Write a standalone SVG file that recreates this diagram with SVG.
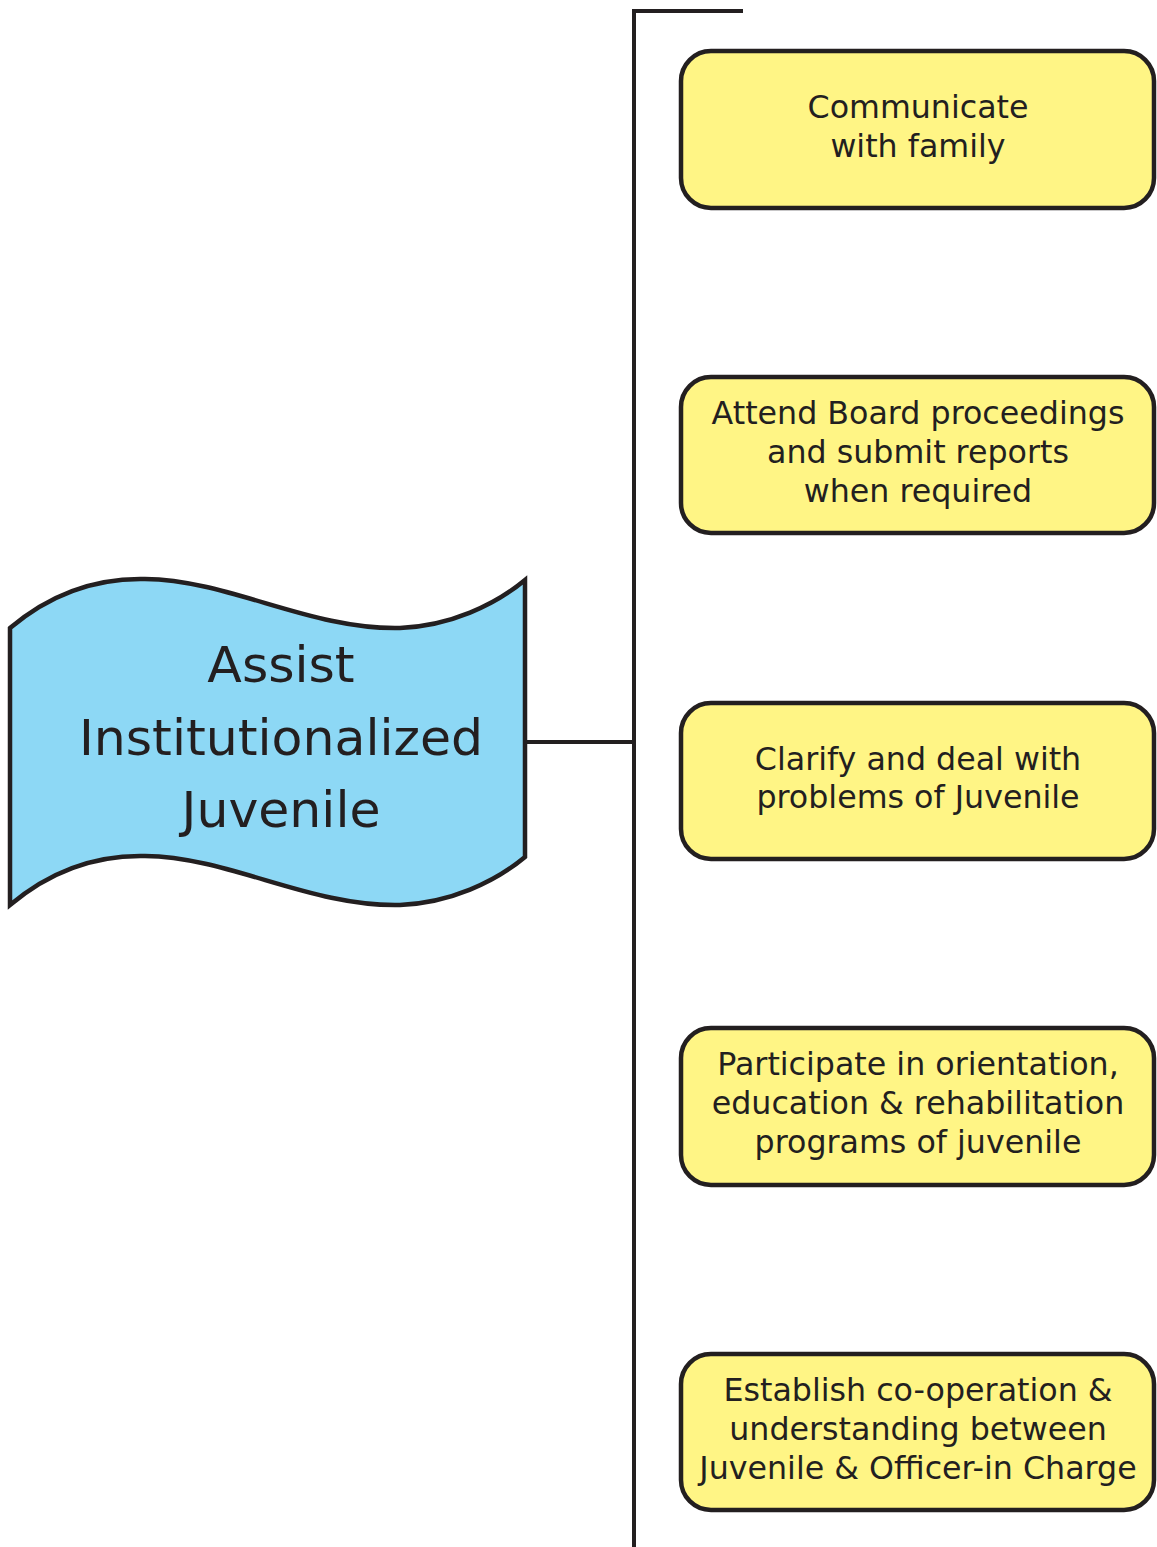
<svg xmlns="http://www.w3.org/2000/svg" width="1157" height="1547" viewBox="0 0 1157 1547">
<style>
.ln{fill:none;stroke:#231F20;stroke-width:4}
.box{fill:#FFF585;stroke:#231F20;stroke-width:4.5}
.flag{fill:#8DD8F5;stroke:#231F20;stroke-width:4.5}
.t{font-family:"DejaVu Sans","Verdana",sans-serif;fill:#231F20;text-anchor:middle}
.bt{font-size:31.7px}
.ft{font-size:50.5px}
</style>
<rect width="1157" height="1547" fill="#ffffff"/>
<g id="connectors">
<polyline class="ln" points="743,11 634,11 634,1547"/>
<line class="ln" x1="525" y1="742" x2="634" y2="742"/>
</g>
<g id="main">
<path class="flag" d="M10,628 C55,590 100,578 145,579 C230,580 310,630 400,628 C450,626 495,605 525,580 V857 C495,882 450,903 400,905 C310,907 230,857 145,856 C100,855 55,867 10,905 Z"/>
<text class="t ft" x="281" y="682">Assist</text>
<text class="t ft" x="281" y="755">Institutionalized</text>
<text class="t ft" x="281" y="827">Juvenile</text>
</g>
<g id="n1">
<rect class="box" x="681" y="51" width="473" height="157" rx="30"/>
<text class="t bt" x="918" y="118">Communicate</text>
<text class="t bt" x="918" y="157">with family</text>
</g>
<g id="n2">
<rect class="box" x="681" y="377" width="473" height="156" rx="30"/>
<text class="t bt" x="918" y="424">Attend Board proceedings</text>
<text class="t bt" x="918" y="463">and submit reports</text>
<text class="t bt" x="918" y="502">when required</text>
</g>
<g id="n3">
<rect class="box" x="681" y="703" width="473" height="156" rx="30"/>
<text class="t bt" x="918" y="770">Clarify and deal with</text>
<text class="t bt" x="918" y="808">problems of Juvenile</text>
</g>
<g id="n4">
<rect class="box" x="681" y="1028" width="473" height="157" rx="30"/>
<text class="t bt" x="918" y="1075">Participate in orientation,</text>
<text class="t bt" x="918" y="1114">education &amp; rehabilitation</text>
<text class="t bt" x="918" y="1153">programs of juvenile</text>
</g>
<g id="n5">
<rect class="box" x="681" y="1354" width="473" height="156" rx="30"/>
<text class="t bt" x="918" y="1401">Establish co-operation &amp;</text>
<text class="t bt" x="918" y="1440">understanding between</text>
<text class="t bt" x="918" y="1479">Juvenile &amp; Officer-in Charge</text>
</g>
</svg>
